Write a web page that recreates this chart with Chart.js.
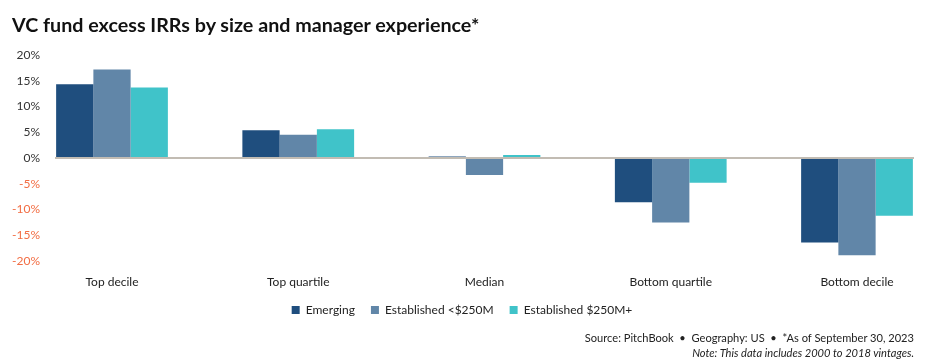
<!DOCTYPE html>
<html>
<head>
<meta charset="utf-8">
<script src="https://cdn.jsdelivr.net/npm/chart.js@4/dist/chart.umd.min.js"></script>
<style>
    body { margin: 0; background: #fff; }
    #wrap { position: relative; width: 935px; height: 360px; overflow: hidden; }
    #title { position: absolute; left: 12px; top: 13px; font: bold 19.7px Lato, sans-serif; color: #111; }
    #note { position: absolute; right: 21px; top: 330px; text-align: right; font: 11.1px Lato, sans-serif; color: #222; line-height: 15px; }
    #note i { font-style: italic; }
</style>
</head>
<body>
<div id="wrap">
    <canvas id="irrChart" width="935" height="360"></canvas>
    <div id="title">VC fund excess IRRs by size and manager experience*</div>
    <div id="note">Source: PitchBook &nbsp;•&nbsp; Geography: US &nbsp;•&nbsp; *As of September 30, 2023<br><i>Note: This data includes 2000 to 2018 vintages.</i></div>
</div>
<script>
var categories = ['Top decile', 'Top quartile', 'Median', 'Bottom quartile', 'Bottom decile'];
var emerging = [14.3, 5.4, 0.3, -8.6, -16.4];
var establishedSmall = [17.2, 4.5, -3.3, -12.5, -18.9];
var establishedLarge = [13.7, 5.6, 0.6, -4.8, -11.2];

// only the 0% line is drawn, the rest of the grid stays hidden
var zeroOnly = function (ctx) {
    return ctx.tick && ctx.tick.value === 0 ? '#c2bcb3' : 'rgba(0,0,0,0)';
};

var ctx = document.getElementById('irrChart').getContext('2d');

var irrChart = new Chart(ctx, {
    type: 'bar',
    data: {
        labels: categories,
        datasets: [
            { label: 'Emerging', data: emerging, backgroundColor: '#1f4e7e', clip: false },
            { label: 'Established <$250M', data: establishedSmall, backgroundColor: '#6186a8', clip: false },
            { label: 'Established $250M+', data: establishedLarge, backgroundColor: '#40c3c9', clip: false }
        ]
    },
    options: {
        responsive: false,
        animation: false,
        categoryPercentage: 0.6,
        barPercentage: 1,
        layout: {
            padding: { left: 10, right: 21, top: 55, bottom: 34 }
        },
        plugins: {
            title: { display: false },
            tooltip: { enabled: false },
            legend: {
                position: 'bottom',
                labels: {
                    boxWidth: 8,
                    boxHeight: 8,
                    padding: 16,
                    color: '#222',
                    font: { family: 'Lato', size: 12 }
                }
            }
        },
        scales: {
            x: {
                offset: false,
                grid: { display: false, drawTicks: false },
                border: { display: false },
                ticks: {
                    padding: 14,
                    color: '#222',
                    font: { family: 'Lato', size: 12 },
                    maxRotation: 0
                },
                afterFit: function (scale) { scale.height = 27; }
            },
            y: {
                min: -20,
                max: 20,
                position: 'left',
                border: { display: false },
                grid: {
                    color: zeroOnly,
                    lineWidth: 2,
                    tickLength: 57
                },
                ticks: {
                    stepSize: 5,
                    padding: 15,
                    font: { family: 'Lato', size: 12 },
                    color: function (c) { return c.tick.value < 0 ? '#f26d43' : '#333'; },
                    callback: function (v) { return v + '%'; }
                },
                afterFit: function (scale) { scale.width = 102; }
            },
            y2: {
                min: -20,
                max: 20,
                position: 'right',
                border: { display: false },
                grid: {
                    color: zeroOnly,
                    lineWidth: 2,
                    drawOnChartArea: false,
                    tickLength: 57
                },
                ticks: { display: false, stepSize: 5 }
            }
        }
    }
});
</script>
</body>
</html>
